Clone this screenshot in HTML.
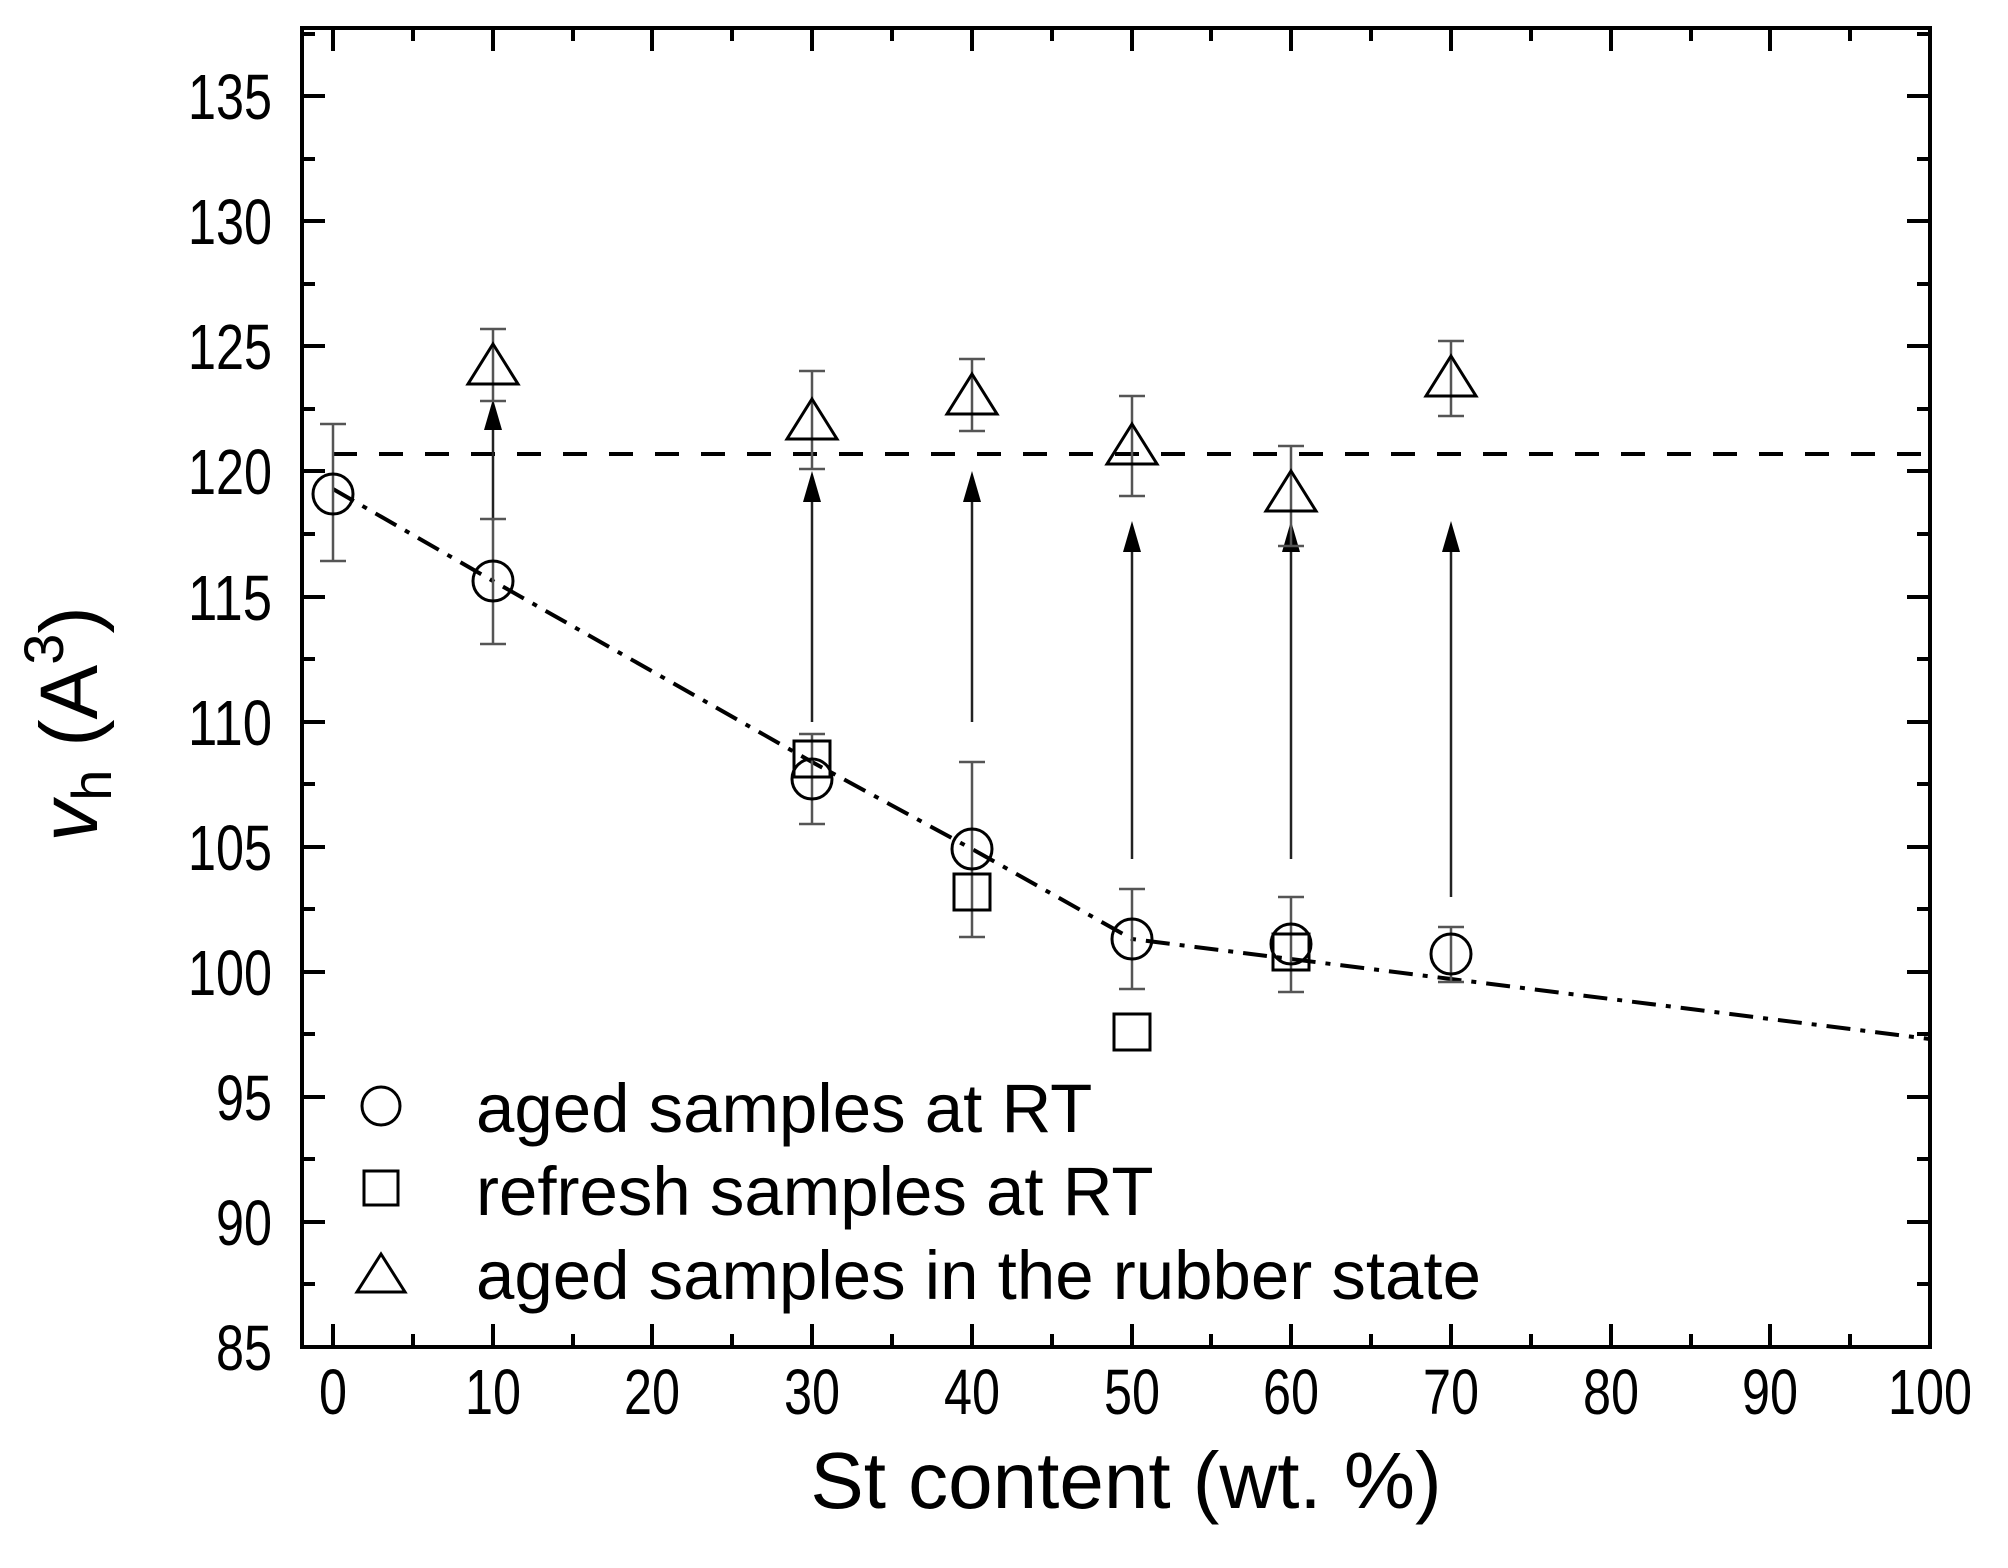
<!DOCTYPE html>
<html><head><style>html,body{margin:0;padding:0;background:#fff}</style></head>
<body>
<svg width="2008" height="1563" viewBox="0 0 2008 1563" xmlns="http://www.w3.org/2000/svg" font-family="Liberation Sans, sans-serif">
<rect width="2008" height="1563" fill="#fff"/>
<g stroke="#000" stroke-width="2">
<path d="M302 1347h23M302 1284h13M302 1222h23M302 1159h13M302 1097h23M302 1034h13M302 972h23M302 909h13M302 847h23M302 784h13M302 722h23M302 659h13M302 597h23M302 534h13M302 471h23M302 409h13M302 346h23M302 284h13M302 221h23M302 159h13M302 96h23M302 34h13
M1930 1284h-13M1930 1222h-23M1930 1159h-13M1930 1097h-23M1930 1034h-13M1930 972h-23M1930 909h-13M1930 847h-23M1930 784h-13M1930 722h-23M1930 659h-13M1930 597h-23M1930 534h-13M1930 471h-23M1930 409h-13M1930 346h-23M1930 284h-13M1930 221h-23M1930 159h-13M1930 96h-23M1930 34h-13" stroke-width="4"/>
<path d="M333 1347v-23M413 1347v-13M493 1347v-23M573 1347v-13M652 1347v-23M732 1347v-13M812 1347v-23M892 1347v-13M972 1347v-23M1052 1347v-13M1132 1347v-23M1211 1347v-13M1291 1347v-23M1371 1347v-13M1451 1347v-23M1531 1347v-13M1611 1347v-23M1691 1347v-13M1770 1347v-23M1850 1347v-13
M333 28v23M413 28v13M493 28v23M573 28v13M652 28v23M732 28v13M812 28v23M892 28v13M972 28v23M1052 28v13M1132 28v23M1211 28v13M1291 28v23M1371 28v13M1451 28v23M1531 28v13M1611 28v23M1691 28v13M1770 28v23M1850 28v13" stroke-width="4"/>
<rect x="302" y="28" width="1628" height="1319" fill="none" stroke-width="4"/>
</g>
<g font-size="64" text-anchor="end" fill="#000" lengthAdjust="spacingAndGlyphs">
<text x="272" y="1370" textLength="56" lengthAdjust="spacingAndGlyphs">85</text><text x="272" y="1245" textLength="56" lengthAdjust="spacingAndGlyphs">90</text><text x="272" y="1120" textLength="56" lengthAdjust="spacingAndGlyphs">95</text>
<text x="272" y="995" textLength="84" lengthAdjust="spacingAndGlyphs">100</text><text x="272" y="870" textLength="84" lengthAdjust="spacingAndGlyphs">105</text><text x="272" y="745" textLength="84" lengthAdjust="spacingAndGlyphs">110</text>
<text x="272" y="620" textLength="84" lengthAdjust="spacingAndGlyphs">115</text><text x="272" y="494" textLength="84" lengthAdjust="spacingAndGlyphs">120</text><text x="272" y="369" textLength="84" lengthAdjust="spacingAndGlyphs">125</text>
<text x="272" y="244" textLength="84" lengthAdjust="spacingAndGlyphs">130</text><text x="272" y="119" textLength="84" lengthAdjust="spacingAndGlyphs">135</text>
</g>
<g font-size="64" text-anchor="middle" fill="#000">
<text x="333" y="1414" textLength="28" lengthAdjust="spacingAndGlyphs">0</text><text x="493" y="1414" textLength="56" lengthAdjust="spacingAndGlyphs">10</text><text x="652" y="1414" textLength="56" lengthAdjust="spacingAndGlyphs">20</text>
<text x="812" y="1414" textLength="56" lengthAdjust="spacingAndGlyphs">30</text><text x="972" y="1414" textLength="56" lengthAdjust="spacingAndGlyphs">40</text><text x="1132" y="1414" textLength="56" lengthAdjust="spacingAndGlyphs">50</text>
<text x="1291" y="1414" textLength="56" lengthAdjust="spacingAndGlyphs">60</text><text x="1451" y="1414" textLength="56" lengthAdjust="spacingAndGlyphs">70</text><text x="1611" y="1414" textLength="56" lengthAdjust="spacingAndGlyphs">80</text>
<text x="1770" y="1414" textLength="56" lengthAdjust="spacingAndGlyphs">90</text><text x="1930" y="1414" textLength="84" lengthAdjust="spacingAndGlyphs">100</text>
</g>
<text x="1126" y="1508" font-size="80" text-anchor="middle">St content (wt. %)</text>
<text transform="translate(97,724) rotate(-90)" font-size="82" text-anchor="middle"><tspan font-style="italic">v</tspan><tspan font-size="56" dy="14">h</tspan><tspan dy="-14"> (A</tspan><tspan font-size="56" dy="-34">3</tspan><tspan dy="34">)</tspan></text>

<path d="M333 454H1930" stroke="#000" stroke-width="4" stroke-dasharray="24 22"/>
<polyline points="333,489 493,581 812,762 972,849 1132,939 1291,959 1451,979 1930,1039" fill="none" stroke="#000" stroke-width="4" stroke-dasharray="24 10 5 10"/>

<g stroke="#222" stroke-width="2.5" fill="#000">
<path d="M493 521V425"/><path d="M484 430l9-31 9 31z" stroke="none"/>
<path d="M812 722V500"/><path d="M803 502l9-31 9 31z" stroke="none"/>
<path d="M972 722V500"/><path d="M963 502l9-31 9 31z" stroke="none"/>
<path d="M1132 859V550"/><path d="M1123 552l9-31 9 31z" stroke="none"/>
<path d="M1291 859V550"/><path d="M1282 552l9-31 9 31z" stroke="none"/>
<path d="M1451 897V550"/><path d="M1442 552l9-31 9 31z" stroke="none"/>
</g>

<g stroke="#555" stroke-width="2.5" fill="none">
<path d="M333 424V561M320 424h26M320 561h26"/>
<path d="M493 519V644M480 519h26M480 644h26"/>
<path d="M812 734V824M799 734h26M799 824h26"/>
<path d="M972 762V937M959 762h26M959 937h26"/>
<path d="M1132 889V989M1119 889h26M1119 989h26"/>
<path d="M1291 897V992M1278 897h26M1278 992h26"/>
<path d="M1451 927V982M1438 927h26M1438 982h26"/>
<path d="M493 329V401M480 329h26M480 401h26"/>
<path d="M812 371V469M799 371h26M799 469h26"/>
<path d="M972 359V431M959 359h26M959 431h26"/>
<path d="M1132 396V496M1119 396h26M1119 496h26"/>
<path d="M1291 446V546M1278 446h26M1278 546h26"/>
<path d="M1451 341V416M1438 341h26M1438 416h26"/>
</g>

<g stroke="#000" stroke-width="3" fill="none">
<circle cx="333" cy="494" r="20"/><circle cx="493" cy="581" r="20"/><circle cx="812" cy="779" r="20"/>
<circle cx="972" cy="849" r="20"/><circle cx="1132" cy="939" r="20"/><circle cx="1291" cy="944" r="20"/>
<circle cx="1451" cy="954" r="20"/>
<rect x="794" y="741" width="36" height="36"/><rect x="954" y="874" width="36" height="36"/>
<rect x="1114" y="1014" width="36" height="36"/><rect x="1273" y="934" width="36" height="36"/>
<path d="M493 344l25 40h-50z"/><path d="M812 399l25 40h-50z"/><path d="M972 374l25 40h-50z"/>
<path d="M1132 424l25 40h-50z"/><path d="M1291 471l25 40h-50z"/><path d="M1451 356l25 40h-50z"/>
<circle cx="381" cy="1106" r="19"/>
<rect x="364" y="1171" width="34" height="34"/>
<path d="M381 1254l24 38h-48z"/>
</g>
<g font-size="69" fill="#000">
<text x="476" y="1132">aged samples at RT</text>
<text x="476" y="1215">refresh samples at RT</text>
<text x="476" y="1299">aged samples in the rubber state</text>
</g>
</svg>
</body></html>
